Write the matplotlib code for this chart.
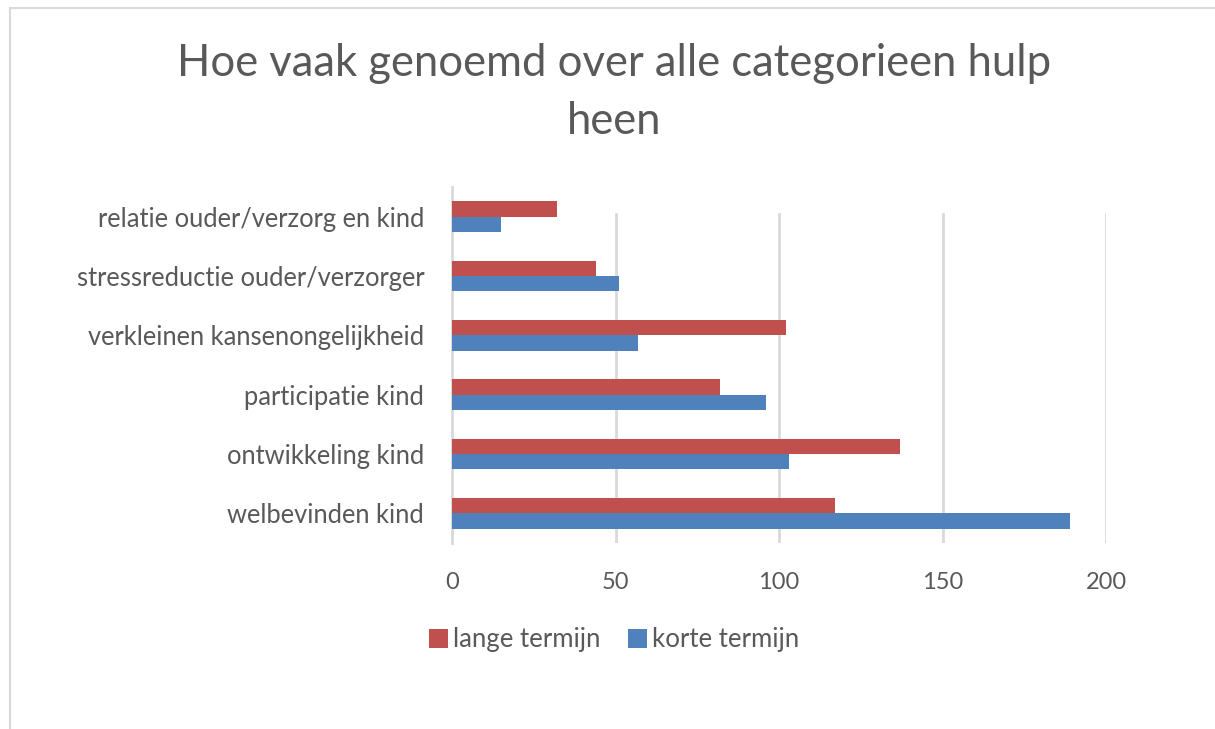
import matplotlib
matplotlib.use("Agg")
import matplotlib.pyplot as plt
import numpy as np
from matplotlib.patches import Rectangle

categories = [
    "welbevinden kind",
    "ontwikkeling kind",
    "participatie kind",
    "verkleinen kansenongelijkheid",
    "stressreductie ouder/verzorger",
    "relatie ouder/verzorg en kind",
]
lange_termijn = [117, 137, 82, 102, 44, 32]
korte_termijn = [189, 103, 96, 57, 51, 15]
x_ticks = [0, 50, 100, 150, 200]
series_names = ["lange termijn", "korte termijn"]
title_lines = ["Hoe vaak genoemd over alle categorieen hulp", "heen"]

RED = "#C0504D"
BLUE = "#4F81BD"
TXT = "#595959"
FONT = "Lato"

W, H = 1215, 729
fig = plt.figure(figsize=(W / 100, H / 100), dpi=100)
fig.patch.set_facecolor("white")

# outer chart border
fig.patches.append(Rectangle((10 / W, -0.1), 1.2, 1 - 8 / H + 0.1, transform=fig.transFigure,
                             fill=False, edgecolor="#D9D9D9", linewidth=1.5))

left, right, top, bottom = 452, 1106, 187, 543
ax = fig.add_axes([left / W, 1 - bottom / H, (right - left) / W, (bottom - top) / H])

y = np.arange(len(categories))
bh = 0.257
ax.barh(y + bh / 2, lange_termijn, height=bh, color=RED, label=series_names[0], zorder=3)
ax.barh(y - bh / 2, korte_termijn, height=bh, color=BLUE, label=series_names[1], zorder=3)

ax.set_xlim(0, 200)
ax.set_ylim(-0.5, len(categories) - 0.5)
ax.set_xticks(x_ticks)
ax.set_yticks(y)
ax.set_yticklabels(categories)
for t in x_ticks[1:]:
    ax.axvline(t, ymin=0, ymax=0.924, color="#D9D9D9", linewidth=2, zorder=1)

for s in ["top", "right", "bottom"]:
    ax.spines[s].set_visible(False)
ax.spines["left"].set_color("#D9D9D9")
ax.spines["left"].set_linewidth(2)
ax.tick_params(axis="both", length=0, colors=TXT)
ax.tick_params(axis="x", pad=21, labelsize=17)
ax.tick_params(axis="y", pad=20, labelsize=18.4)
for lab in ax.get_xticklabels() + ax.get_yticklabels():
    lab.set_fontfamily(FONT)

fig.text(614 / W, 1 - 63 / H, title_lines[0], ha="center", va="center", fontsize=31.4,
         color=TXT, family=FONT)
fig.text(614 / W, 1 - 121 / H, title_lines[1], ha="center", va="center", fontsize=31.4,
         color=TXT, family=FONT)

handles, labels = ax.get_legend_handles_labels()
leg = fig.legend(handles, labels, loc="center", bbox_to_anchor=(614 / W, 1 - 640 / H),
                 ncol=2, frameon=False, prop={"family": FONT, "size": 18.5},
                 handlelength=0.75, handleheight=0.75, handletextpad=0.2, columnspacing=1.05)
for t in leg.get_texts():
    t.set_color(TXT)

fig.savefig("out.png", dpi=100)
